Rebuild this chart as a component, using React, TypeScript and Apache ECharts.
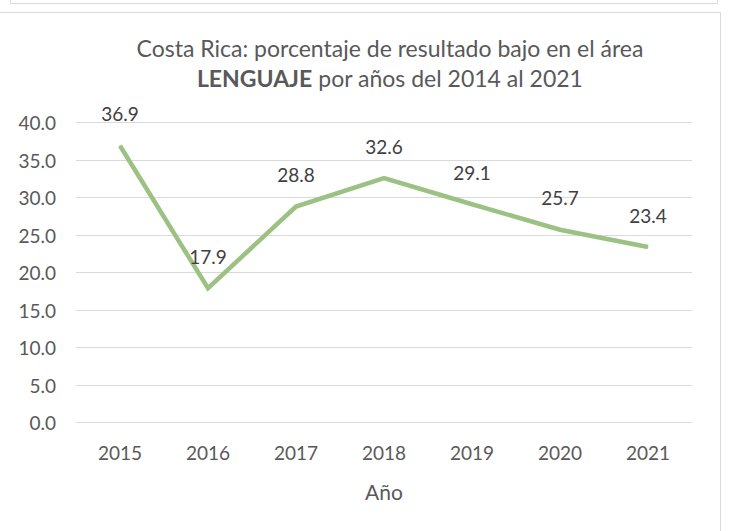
import React, { useEffect, useRef } from "react";
import * as echarts from "echarts";

const categories = ["2015", "2016", "2017", "2018", "2019", "2020", "2021"];
const values = [36.9, 17.9, 28.8, 32.6, 29.1, 25.7, 23.4];
const titleLine1 = "Costa Rica: porcentaje de resultado bajo en el área";
const titleBold = "LENGUAJE";
const titleRest = " por años del 2014 al 2021";
const xName = "Año";

const FONT = "Lato";

export default function App() {
  const ref = useRef<HTMLDivElement>(null);
  useEffect(() => {
    if (!ref.current) return;
    const chart = echarts.init(ref.current, null, { renderer: "svg" });
    chart.setOption({
      animation: false,
      backgroundColor: "#ffffff",
      title: {
        text: `{n|${titleLine1}}\n{b|${titleBold}}{n|${titleRest}}`,
        left: 385,
        top: 28,
        textAlign: "center",
        textStyle: {
          fontWeight: "normal",
          rich: {
            n: { fontFamily: FONT, fontSize: 23, color: "#595959", fontWeight: "normal", lineHeight: 30 },
            b: { fontFamily: FONT, fontSize: 23, color: "#595959", fontWeight: "bold", lineHeight: 30 },
          },
        },
      },
      graphic: [
        { type: "rect", shape: { x: 10.5, y: -10, width: 707, height: 13.5 }, style: { fill: "none", stroke: "#d9d9d9", lineWidth: 1 } },
        { type: "rect", shape: { x: -1, y: 12.5, width: 721.5, height: 530 }, style: { fill: "none", stroke: "#d9d9d9", lineWidth: 1 } },
      ],
      grid: { left: 76, right: 38, top: 122.5, bottom: 108.5, containLabel: false },
      xAxis: {
        type: "category",
        data: categories,
        boundaryGap: true,
        axisLine: { show: false },
        axisTick: { show: false },
        axisLabel: { color: "#595959", fontFamily: FONT, fontSize: 19, margin: 20 },
        name: xName,
        nameLocation: "middle",
        nameGap: 58,
        nameTextStyle: { color: "#595959", fontFamily: FONT, fontSize: 21 },
      },
      yAxis: {
        type: "value",
        min: 0,
        max: 40,
        interval: 5,
        axisLine: { show: false },
        axisTick: { show: false },
        axisLabel: {
          color: "#595959",
          fontFamily: FONT,
          fontSize: 19,
          margin: 20,
          formatter: (v: number) => v.toFixed(1),
        },
        splitLine: { lineStyle: { color: "#d9d9d9", width: 1 } },
      },
      series: [
        {
          type: "line",
          data: values,
          symbol: "circle",
          symbolSize: 1,
          itemStyle: { color: "#9bc283" },
          lineStyle: { color: "#9bc283", width: 4.5, join: "miter" },
          label: {
            show: true,
            position: "top",
            distance: 22,
            color: "#404040",
            fontFamily: FONT,
            fontSize: 19,
            formatter: (p: any) => Number(p.value).toFixed(1),
          },
        },
      ],
    });
    return () => chart.dispose();
  }, []);
  return (
    <div
      ref={ref}
      style={{ position: "fixed", left: 0, top: 0, width: 730, height: 531 }}
    />
  );
}
